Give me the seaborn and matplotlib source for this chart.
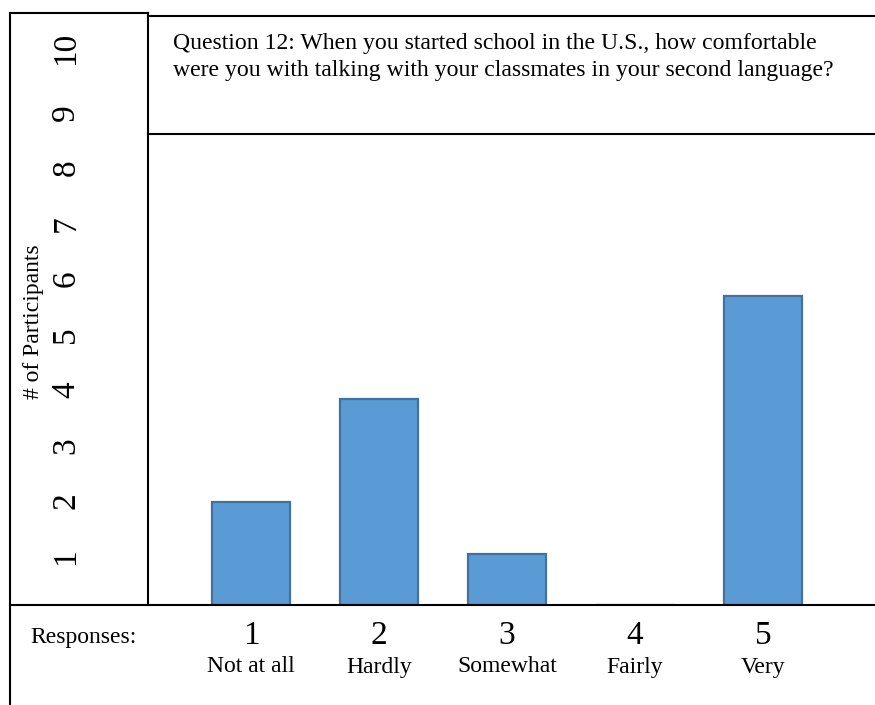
import matplotlib
matplotlib.use("Agg")
import matplotlib.pyplot as plt
import matplotlib.transforms as mtransforms
from matplotlib.lines import Line2D
import pandas as pd
import seaborn as sns

# Survey answers
responses = ["1", "2", "3", "4", "5"]
response_names = ["Not at all", "Hardly", "Somewhat", "Fairly", "Very"]
participants = [2, 4, 1, 0, 6]
count_ticks = [1, 2, 3, 4, 5, 6, 7, 8, 9, 10]

question = ("Question 12: When you started school in the U.S., how comfortable\n"
            "were you with talking with your classmates in your second language?")
y_title = "# of Participants"
x_title = "Responses:"

sns.set_theme(style="white")
plt.rcParams["font.family"] = ["Liberation Serif", "DejaVu Serif"]

W, H = 875, 705
fig = plt.figure(figsize=(W / 100, H / 100), dpi=100)
fig.patch.set_facecolor("white")


def fx(px):
    return px / W


def fy(py):
    return 1 - py / H


# Bar area
ax = fig.add_axes([fx(148), fy(605), fx(875) - fx(148), fy(134) - fy(605)])
df = pd.DataFrame({"response": responses, "participants": participants})
sns.barplot(data=df, x="response", y="participants", order=responses,
            color="#5B9BD5", edgecolor="#41719C", linewidth=1.6,
            width=0.61, saturation=1, ax=ax)
ax.set_xlim(-0.805, 4.875)
ax.set_ylim(0, (605 - 134) / 51.5)
ax.axis("off")

# Count scale in the left column
ax_left = fig.add_axes([fx(9.5), fy(605), fx(148) - fx(9.5), fy(12.5) - fy(605)])
ax_left.set_xlim(0, 1)
ax_left.set_ylim(0.28, 10.95)
ax_left.axis("off")
for k in count_ticks:
    ax_left.text(0.408, k, str(k), rotation=90, ha="center", va="bottom",
                 fontsize=24, color="black")

fig.text(fx(34), fy(322), y_title, rotation=90, ha="center", va="center",
         fontsize=17, color="black")

# Response labels under the bars
trans = mtransforms.blended_transform_factory(ax.transData, fig.transFigure)
for i, (num, name) in enumerate(zip(responses, response_names)):
    ax.text(i, fy(636), num, transform=trans, ha="center", va="center",
            fontsize=24, color="black", clip_on=False)
    ax.text(i, fy(667), name, transform=trans, ha="center", va="center",
            fontsize=17, color="black", clip_on=False)
fig.text(fx(30), fy(638), x_title, ha="left", va="center", fontsize=17,
         color="black")

fig.text(fx(173), fy(57), question, ha="left", va="center", fontsize=17.1,
         linespacing=1.36, color="black")

# Table rules
lw = 1.5
rules = [
    ((9.5, 148), (12.5, 12.5)),
    ((9.5, 9.5), (12.5, 705)),
    ((148, 148), (12.5, 605)),
    ((148, 875), (16, 16)),
    ((148, 875), (134, 134)),
    ((9.5, 875), (605, 605)),
]
for xs, ys in rules:
    fig.add_artist(Line2D([fx(x) for x in xs], [fy(y) for y in ys],
                          transform=fig.transFigure, color="black",
                          linewidth=lw, solid_capstyle="projecting"))

fig.savefig("out.png", dpi=100, facecolor="white")
